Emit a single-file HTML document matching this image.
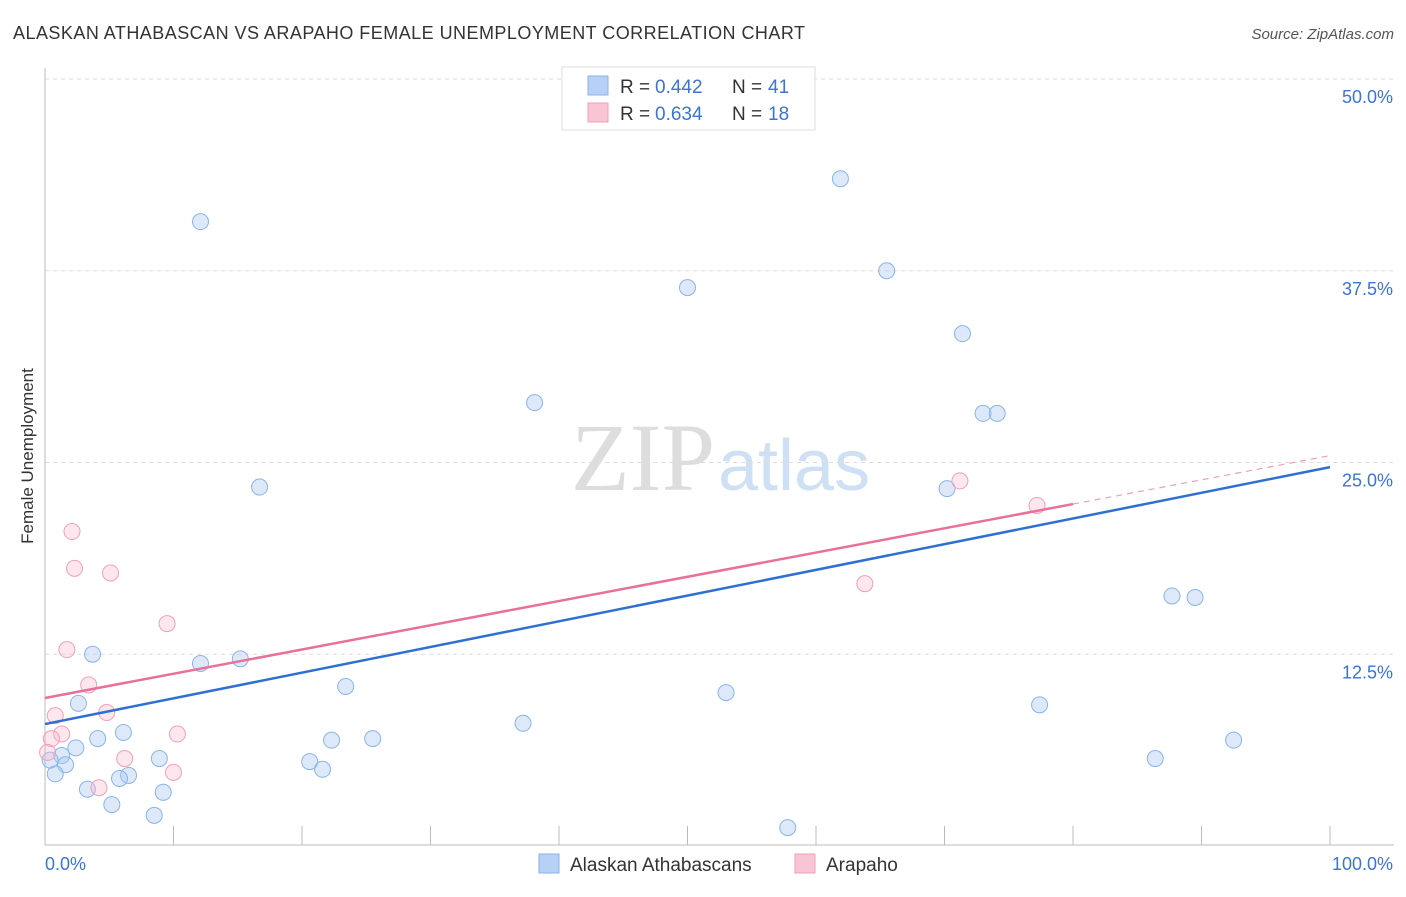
<!DOCTYPE html>
<html><head><meta charset="utf-8"><style>
body{margin:0;background:#fff;font-family:"Liberation Sans",sans-serif}
</style></head><body>
<svg width="1406" height="892" xmlns="http://www.w3.org/2000/svg" font-family="Liberation Sans, sans-serif">
<text x="13" y="39" font-size="18" fill="#333" textLength="792">ALASKAN ATHABASCAN VS ARAPAHO FEMALE UNEMPLOYMENT CORRELATION CHART</text>
<text x="1394" y="39" font-size="15" fill="#555" text-anchor="end" font-style="italic">Source: ZipAtlas.com</text>
<text x="715" y="490" font-size="96" text-anchor="end" fill="#ddd" font-family="Liberation Serif, serif">ZIP</text>
<text x="718" y="490" font-size="72" fill="#cfe0f5">atlas</text>
<g id="grid"></g>
<g id="axes"></g>
<text transform="translate(33,456) rotate(-90)" font-size="17" fill="#333" text-anchor="middle">Female Unemployment</text>
<g id="marks"></g>
<g>
<rect x="562" y="67" width="253" height="63" fill="#fff" stroke="#ddd"/>
<rect x="588" y="76" width="20" height="19" fill="#b6d1f5" stroke="#8ab4e8"/>
<rect x="588" y="103" width="20" height="19" fill="#f9c5d4" stroke="#f0a0b8"/>
<text x="620" y="93" font-size="19" fill="#333">R = </text><text x="655" y="93" font-size="19" fill="#3b74d4">0.442</text>
<text x="732" y="93" font-size="19" fill="#333">N = </text><text x="768" y="93" font-size="19" fill="#3b74d4">41</text>
<text x="620" y="120" font-size="19" fill="#333">R = </text><text x="655" y="120" font-size="19" fill="#3b74d4">0.634</text>
<text x="732" y="120" font-size="19" fill="#333">N = </text><text x="768" y="120" font-size="19" fill="#3b74d4">18</text>
</g>
<g>
<rect x="539" y="854" width="20" height="19" fill="#b6d1f5" stroke="#8ab4e8"/>
<text x="570" y="871" font-size="19" fill="#333">Alaskan Athabascans</text>
<rect x="795" y="854" width="20" height="19" fill="#f9c5d4" stroke="#f0a0b8"/>
<text x="826" y="871" font-size="19" fill="#333">Arapaho</text>
</g>
</svg>
<script>
const yTicks=[12.5,25,37.5,50];
const yTickLabels=["12.5%","25.0%","37.5%","50.0%"];
const xTicks=[0,10,20,30,40,50,60,70,80,90,100];
const blueX=[12.1,61.9,65.5,50.0,71.4,38.1,73.0,74.1,16.7,70.2,87.7,89.5,3.7,12.1,15.2,23.4,53.0,2.6,77.4,37.2,6.1,4.1,22.3,25.5,92.5,2.4,1.3,8.9,20.6,86.4,1.6,0.8,21.6,6.5,5.8,3.3,9.2,5.2,8.5,57.8,0.4];
const blueY=[40.7,43.5,37.5,36.4,33.4,28.9,28.2,28.2,23.4,23.3,16.3,16.2,12.5,11.9,12.2,10.4,10.0,9.3,9.2,8.0,7.4,7.0,6.9,7.0,6.9,6.4,5.9,5.7,5.5,5.7,5.3,4.7,5.0,4.6,4.4,3.7,3.5,2.7,2.0,1.2,5.6];
const pinkX=[2.1,2.3,5.1,9.5,1.7,3.4,0.8,4.8,1.3,10.3,0.5,6.2,0.2,10.0,4.2,71.2,77.2,63.8];
const pinkY=[20.5,18.1,17.8,14.5,12.8,10.5,8.5,8.7,7.3,7.3,7.0,5.7,6.1,4.8,3.8,23.8,22.2,17.1];
const blueTrend=[7.95,24.7];
const pinkTrend=[9.65,25.45];
const pinkSolidEnd=80;
const NS="http://www.w3.org/2000/svg";
const X=v=>45+v*12.85, Y=v=>846-v*15.34;
function mk(t,a,p){const e=document.createElementNS(NS,t);for(const k in a)e.setAttribute(k,a[k]);document.getElementById(p).appendChild(e);return e;}
yTicks.forEach((t,i)=>{
 const l=mk('line',{x1:45,x2:1394,y1:Y(t),y2:Y(t),stroke:'#ddd','stroke-dasharray':'4,4'},'grid');
 
 
 const tx=mk('text',{x:1393,y:Y(t)+24,'font-size':18,fill:'#3b74d4','text-anchor':'end'},'axes');
 tx.textContent=yTickLabels[i];
 
 
});
const ax=mk('line',{x1:45,x2:1394,y1:845,y2:845,stroke:'#bbb'},'axes');


const ay=mk('line',{x1:45,x2:45,y1:68,y2:845,stroke:'#bbb'},'axes');


xTicks.forEach(t=>{const l=mk('line',{x1:X(t),x2:X(t),y1:826,y2:845,stroke:'#bbb'},'axes');
 
 });
[["0.0%",45,'start'],["100.0%",1393,'end']].forEach(a=>{const t=mk('text',{x:a[1],y:870,'font-size':18,fill:'#3b74d4','text-anchor':a[2]},'axes');t.textContent=a[0];
 
 });
blueX.forEach((x,i)=>{const c=mk('circle',{cx:X(x),cy:Y(blueY[i]),r:8,fill:'rgba(170,200,240,0.4)',stroke:'#8ab4e8','stroke-width':1},'marks');
 
 });
pinkX.forEach((x,i)=>{const c=mk('circle',{cx:X(x),cy:Y(pinkY[i]),r:8,fill:'rgba(248,185,205,0.35)',stroke:'#f0a0b8','stroke-width':1},'marks');
 
 });
const bt=mk('line',{x1:X(0),y1:Y(blueTrend[0]),x2:X(100),y2:Y(blueTrend[1]),stroke:'#2e6fd6','stroke-width':2.5},'marks');


const pm=pinkTrend[0]+(pinkTrend[1]-pinkTrend[0])*pinkSolidEnd/100;
const pt=mk('line',{x1:X(0),y1:Y(pinkTrend[0]),x2:X(pinkSolidEnd),y2:Y(pm),stroke:'#e8709a','stroke-width':2.5},'marks');


const pd=mk('line',{x1:X(pinkSolidEnd),y1:Y(pm),x2:X(100),y2:Y(pinkTrend[1]),stroke:'#e8a0b8','stroke-width':1.2,'stroke-dasharray':'6,5'},'marks');


</script>
</body></html>
